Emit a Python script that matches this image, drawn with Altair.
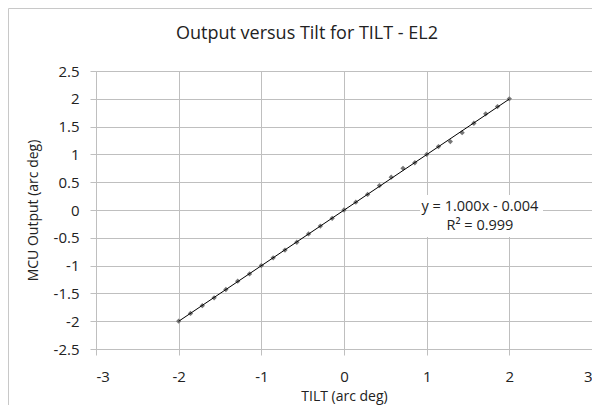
import altair as alt
import pandas as pd

tilt = [-2.0, -1.857, -1.714, -1.571, -1.429, -1.286, -1.143, -1.0, -0.857, -0.714,
        -0.571, -0.429, -0.286, -0.143, 0.0, 0.143, 0.286, 0.429, 0.571, 0.714,
        0.857, 1.0, 1.143, 1.286, 1.429, 1.571, 1.714, 1.857, 2.0]
output = [-2.0, -1.86, -1.72, -1.58, -1.43, -1.28, -1.15, -1.0, -0.86, -0.72,
          -0.58, -0.43, -0.29, -0.15, 0.0, 0.14, 0.28, 0.44, 0.59, 0.75,
          0.85, 1.0, 1.14, 1.23, 1.39, 1.56, 1.73, 1.86, 2.0]
x_ticks = [-3, -2, -1, 0, 1, 2, 3]
y_ticks = [-2.5, -2, -1.5, -1, -0.5, 0, 0.5, 1, 1.5, 2, 2.5]
eq_lines = ["y = 1.000x - 0.004", "R² = 0.999"]
title_text = "Output versus Tilt for TILT - EL2"

df = pd.DataFrame({"x": tilt, "y": output})
FONT = "Open Sans"
GRID = "#bfbfbf"
TXT = "#222222"

xs = alt.Scale(domain=[-3, 3], nice=False, zero=False)
ys = alt.Scale(domain=[-2.5, 2.5], nice=False, zero=False)
xaxis = alt.Axis(values=x_ticks, labelExpr="'' + datum.value", labelOverlap=False)
yaxis = alt.Axis(values=y_ticks, labelExpr="'' + datum.value", labelOverlap=False)
xenc = alt.X("x:Q", scale=xs, title="TILT (arc deg)", axis=xaxis)
yenc = alt.Y("y:Q", scale=ys, title="MCU Output (arc deg)", axis=yaxis)

base = alt.Chart(df)

points = base.mark_point(shape="diamond", filled=True, size=28, color="#777777", opacity=1).encode(
    x=xenc, y=yenc
)

trend = base.transform_regression("x", "y", extent=[-2, 2]).mark_line(
    color="#000000", strokeWidth=1
).encode(x=xenc, y=yenc)

one = pd.DataFrame({"a": [0]})
box = alt.Chart(one).mark_rect(color="white").encode(
    x=alt.value(324), x2=alt.value(447), y=alt.value(124), y2=alt.value(166)
)

eq1 = alt.Chart(pd.DataFrame({"t": [eq_lines[0]]})).mark_text(font=FONT, fontSize=14.5, color=TXT).encode(
    text="t:N", x=alt.value(384), y=alt.value(136)
)
eq2 = alt.Chart(pd.DataFrame({"t": [eq_lines[1]]})).mark_text(font=FONT, fontSize=14.5, color=TXT).encode(
    text="t:N", x=alt.value(384), y=alt.value(155)
)

title = alt.Chart(pd.DataFrame({"t": [title_text]})).mark_text(font=FONT, fontSize=18, color=TXT).encode(
    text="t:N", x=alt.value(211), y=alt.value(-37)
)

border = alt.Chart(one).mark_rect(
    fill="transparent", stroke="#c8c8c8", strokeWidth=1
).encode(x=alt.value(-87.5), x2=alt.value(600), y=alt.value(-62.5), y2=alt.value(500))

chart = alt.layer(border, points, trend, box, eq1, eq2, title).properties(
    width=496, height=278,
    autosize=alt.AutoSizeParams(type="none"),
    padding={"left": 88, "top": 63, "right": 0, "bottom": 56},
).configure_view(stroke=None).configure_axis(
    gridColor=GRID, domainColor=GRID, tickColor=GRID, tickSize=6,
    labelFont=FONT, labelFontSize=15, labelColor=TXT,
    titleFont=FONT, titleFontSize=14, titleFontWeight="normal", titleColor=TXT,
).configure_axisX(labelPadding=14, titlePadding=5).configure_axisY(
    labelPadding=11, titlePadding=13
)

chart.save("out.html", embed_options={"renderer": "svg", "actions": False})
